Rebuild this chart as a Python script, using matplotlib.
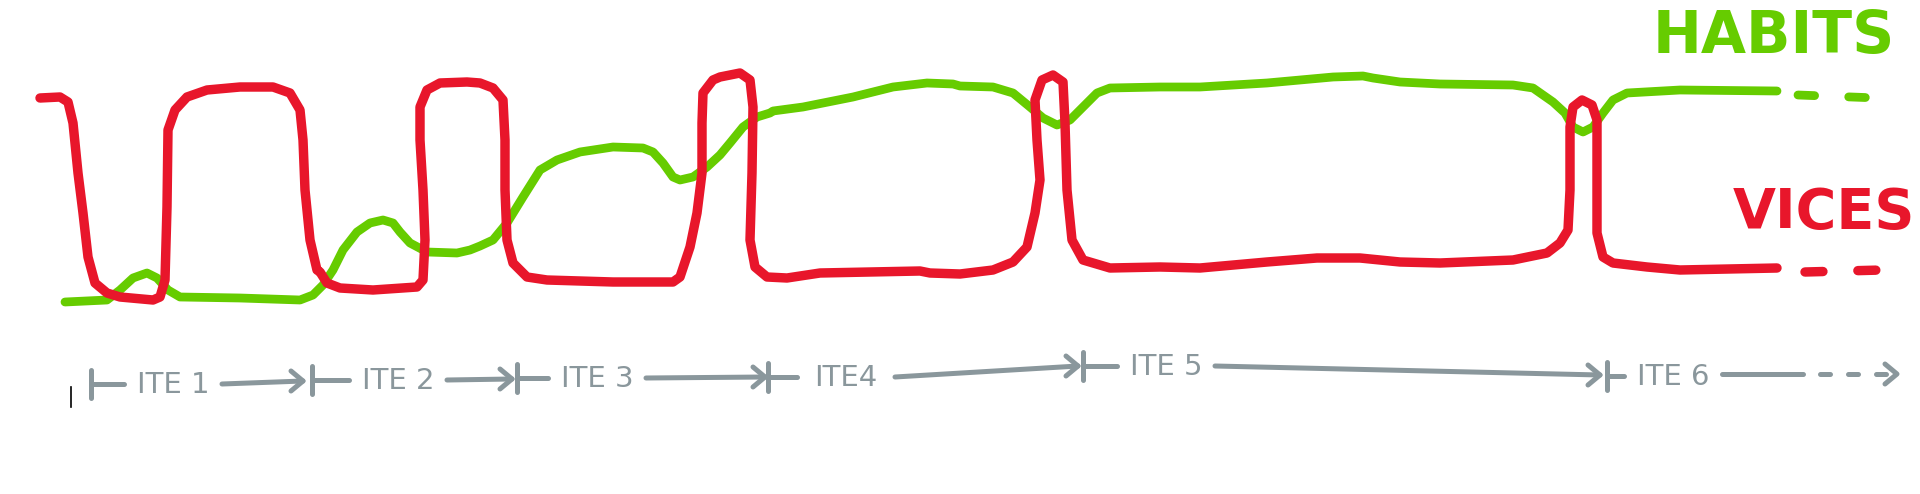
import numpy as np
import matplotlib.pyplot as plt

# vices (red) and habits (green) curves, x = time, y = level (drawn top-down)
vice_x = [40, 60, 68, 73, 78, 83, 88, 95, 107, 120, 153, 160, 165, 167, 168, 175, 187, 207, 240,
          273, 290, 300, 303, 305, 310, 317, 320, 327, 340, 373, 417, 423, 425, 423, 420, 420, 427,
          440, 467, 480, 493, 503, 505, 505, 507, 513, 527, 547, 613, 673, 680, 690, 697, 702, 702,
          703, 713, 720, 740, 750, 753, 752, 750, 755, 767, 787, 820, 920, 930, 960, 993, 1013, 1027,
          1035, 1040, 1037, 1035, 1042, 1053, 1063, 1065, 1067, 1072, 1083, 1110, 1160, 1200, 1267,
          1317, 1360, 1400, 1440, 1513, 1547, 1560, 1568, 1570, 1570, 1573, 1582, 1592, 1597, 1597,
          1597, 1603, 1613, 1647, 1680, 1777]
vice_y = [98, 97, 102, 123, 173, 213, 257, 283, 293, 297, 300, 297, 280, 207, 130, 110, 97, 90, 87,
          87, 93, 110, 140, 190, 240, 270, 272, 283, 288, 290, 287, 280, 240, 190, 140, 107, 90,
          83, 82, 83, 88, 100, 140, 190, 240, 263, 277, 280, 282, 282, 277, 247, 213, 173, 123,
          93, 80, 77, 73, 80, 107, 173, 240, 267, 277, 278, 273, 271, 273, 274, 270, 262, 247,
          213, 180, 140, 100, 80, 75, 82, 123, 190, 240, 260, 268, 267, 268, 262,
          258, 258, 262, 263, 260, 253, 243, 230, 190, 127, 107, 100, 105, 120, 173,
          233, 257, 263, 267, 270, 268]

habit_x = [65, 107, 120, 133, 147, 157, 168, 180, 240, 300, 313, 323, 333, 343, 357, 370, 383, 393,
           400, 410, 427, 457, 470, 480, 493, 507, 523, 540, 557, 580, 613, 643, 653, 663, 673, 680,
           693, 707, 720, 730, 743, 757, 770, 773, 803, 853, 893, 927, 953, 960, 993, 1013, 1030,
           1043, 1057, 1070, 1083, 1097, 1110, 1160, 1200, 1267, 1333, 1363, 1373, 1400, 1440, 1513,
           1533, 1553, 1565, 1573, 1583, 1593, 1603, 1613, 1627, 1680, 1777]
habit_y = [302, 300, 290, 278, 273, 278, 290, 297, 298, 300, 295, 285, 270, 250, 232, 223, 220, 223,
           232, 243, 252, 253, 250, 246, 240, 223, 197, 170, 160, 152, 147, 148, 152, 163, 177, 180,
           177, 167, 155, 143, 127, 117, 113, 111, 107, 97, 87, 83, 84, 86, 87, 93, 107,
           118, 125, 120, 107, 93, 88, 87, 87, 83, 77, 76, 78, 82, 84, 85,
           88, 102, 113, 127, 132, 127, 113, 100, 93, 90, 91]

# dashed continuation ("and so on")
vice_tail_x = [1805, 1882]
vice_tail_y = [272, 270]
habit_tail_x = [1798, 1878]
habit_tail_y = [95, 98]

# iterations along the time line
ite_labels = ['ITE 1', 'ITE 2', 'ITE 3', 'ITE4', 'ITE 5', 'ITE 6']
ite_start = [91, 312, 517, 768, 1083, 1607]
ite_end = [303, 512, 765, 1078, 1600, 1897]
ite_label_x = [173, 398, 597, 846, 1166, 1673]
ite_y0 = [384, 380, 378, 377, 366, 376]
ite_y1 = [381, 379, 377, 366, 375, 374]

RED = '#E8162B'
GREEN = '#66CC00'
GRAY = '#8A979C'

fig = plt.figure(figsize=(19.2, 4.94), dpi=100)
ax = fig.add_axes([0, 0, 1, 1])
ax.set_xlim(0, 1920)
ax.set_ylim(494, 0)
ax.axis('off')

line_kw = dict(solid_capstyle='round', solid_joinstyle='round')
ax.plot(habit_x, habit_y, color=GREEN, lw=6.3, zorder=2, **line_kw)
ax.plot(vice_x, vice_y, color=RED, lw=6.8, zorder=3, **line_kw)
ax.plot(habit_tail_x, habit_tail_y, color=GREEN, lw=6.3, dash_capstyle='round',
        dashes=(1.9, 3.9))
ax.plot(vice_tail_x, vice_tail_y, color=RED, lw=6.8, dash_capstyle='round',
        dashes=(1.9, 3.7))

ax.text(1895, 37, 'HABITS', color=GREEN, fontsize=42, fontweight='bold',
        ha='right', va='center')
ax.text(1915, 213, 'VICES', color=RED, fontsize=40, fontweight='bold',
        ha='right', va='center')

# small black mark at the origin
ax.plot([71, 71], [387, 407], color='black', lw=1.2)

gkw = dict(color=GRAY, lw=3.6, solid_capstyle='round', solid_joinstyle='round')
for i, lab in enumerate(ite_labels):
    s, e, lx = ite_start[i], ite_end[i], ite_label_x[i]
    y0, y1 = ite_y0[i], ite_y1[i]
    ax.plot([s, s], [y0 - 14, y0 + 14], **gkw)
    ax.plot([s, lx - 49], [y0, y0], **gkw)
    ax.text(lx, y0 + 1, lab, color=GRAY, fontsize=21, ha='center', va='center')
    if i < len(ite_labels) - 1:
        ax.plot([lx + 49, e], [y0, y1], **gkw)
    else:
        ax.plot([lx + 49, lx + 130], [y0 - 2, y1], **gkw)
        ax.plot([lx + 147, e], [y1, y1], color=GRAY, lw=3.6, dash_capstyle='round',
                dashes=(2.0, 3.6))
    # open arrow head
    ax.plot([e - 12, e, e - 12], [y1 - 10, y1, y1 + 10], **gkw)

fig.savefig('out.png', dpi=100, facecolor='white')
